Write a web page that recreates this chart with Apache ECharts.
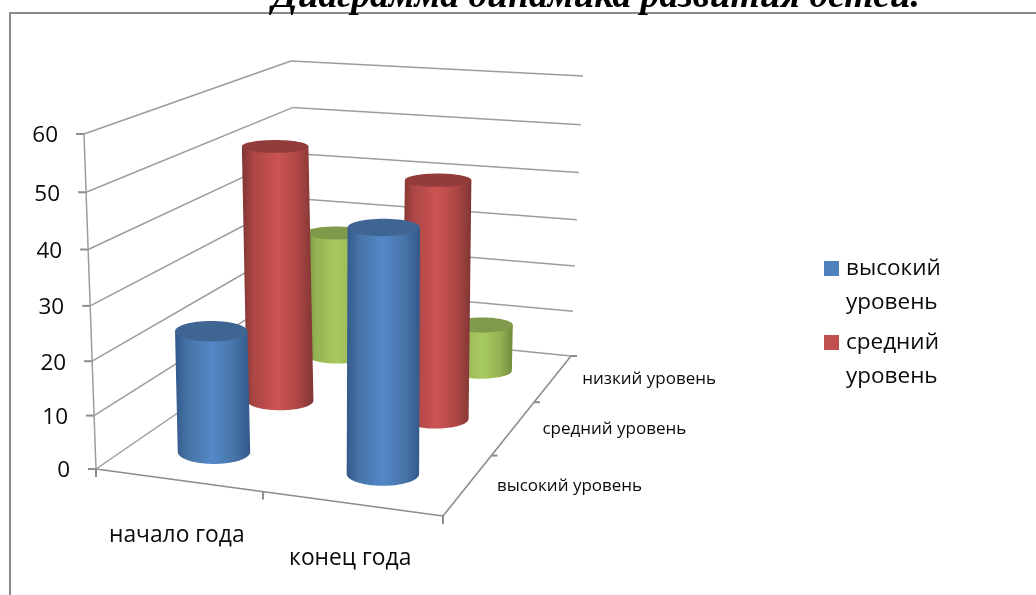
<!DOCTYPE html>
<html><head><meta charset="utf-8">
<style>html,body{margin:0;padding:0;background:#fff}#c{width:1036px;height:595px}</style>
<script src="https://cdn.jsdelivr.net/npm/echarts@6/dist/echarts.min.js"></script>
</head><body><div id="c"></div>
<script>
const titleText = 'Диаграмма динамика развития детей.';
const categories = ['начало года', 'конец года'];
const levels = ['высокий уровень', 'средний уровень', 'низкий уровень'];
const highValues = [23, 45];
const mediumValues = [51, 47];
const lowValues = [27, 10];
const valueTicks = [0, 10, 20, 30, 40, 50, 60];
const legendNames = ['высокий уровень', 'средний уровень'];
const FONT = '"Open Sans"';

const C = {
  f0: [[96,469],[443,516]], b0: [[300,329],[571,356]],
  f1: [[84,134],[447,166]], b1: [[291,61],[583,76]]
};
const lerp = (a,b,t)=>[a[0]+(b[0]-a[0])*t, a[1]+(b[1]-a[1])*t];
const warpH = t => t - 0.052*t*(1-t);
const warpV = v => v + 0.2*v*(1-v);
const warpU = u => u - u*(1-u)*(0.076-0.18*Math.max(0,u-0.5));
function proj(u,v,t){
  const uu = warpU(u), vv = warpV(v), tt = warpH(t);
  const low = lerp(lerp(C.f0[0],C.f0[1],uu), lerp(C.b0[0],C.b0[1],uu), vv);
  const up  = lerp(lerp(C.f1[0],C.f1[1],uu), lerp(C.b1[0],C.b1[1],uu), vv);
  return lerp(low,up,tt);
}
const LINE = '#9c9c9c', TICK = '#8c8c8c';
const seg = (a,b,color,w)=>({type:'line',silent:true,shape:{x1:a[0],y1:a[1],x2:b[0],y2:b[1]},style:{stroke:color||LINE,lineWidth:w||1.5}});
const txt = (s,x,y,size,align)=>({type:'text',silent:true,style:{text:s,x:x,y:y,fill:'#0a0a0a',font:size+'px '+FONT,textAlign:align||'left',textVerticalAlign:'middle'}});

function renderFrame(params, api){
  const cs = params.coordSys;
  const tOf = val => (cs.y+cs.height-api.coord([0,val])[1])/cs.height;
  const uOf = i => (api.coord([i,0])[0]-cs.x)/cs.width;
  const kids = [];
  valueTicks.forEach(val=>{
    const t = tOf(val);
    const a = proj(0,0,t), b = proj(0,1,t), c = proj(1,1,t);
    kids.push(seg(a,b), seg(b,c));
    kids.push(seg([a[0]-8,a[1]],a,TICK,2));
    kids.push(txt(String(val), a[0]-26, a[1]+2, 22.5, 'right'));
  });
  kids.push(seg(proj(0,0,0),proj(0,0,1)));
  kids.push(seg(proj(0,0,0),proj(1,0,0),TICK,1.6));
  kids.push(seg(proj(1,0,0),proj(1,1,0),TICK,1.6));
  categories.forEach((name,i)=>{
    const p = proj(uOf(i),0,0);
    kids.push(txt(name, i===0 ? p[0]-1 : p[0]-4, p[1]+55, 22.8, 'center'));
  });
  [0,0.5,1].forEach(u=>{
    const p = proj(u,0,0);
    kids.push(seg(p,[p[0],p[1]+8],TICK,2));
  });
  levels.forEach((name,i)=>{
    const p = proj(1,(i+0.5)/levels.length,0);
    kids.push(txt(name,p[0]+29,p[1]+1,17));
  });
  [1,2,3].forEach(i=>{
    const p = proj(1,i/levels.length,0);
    kids.push(seg(p,[p[0]+6,p[1]],TICK,2));
  });
  return {type:'group',children:kids};
}

function cylinderRenderer(levelIndex, pal){
  return function(params, api){
    const cs = params.coordSys;
    const pos = api.coord([api.value(0), api.value(1)]);
    const u = (pos[0]-cs.x)/cs.width;
    const t = (cs.y+cs.height-pos[1])/cs.height;
    const v = (levelIndex+0.5)/levels.length;
    const b = proj(u,v,0), top = proj(u,v,t);
    const vv = warpV(v);
    const span = lerp(C.f0[1],C.b0[1],vv)[0]-lerp(C.f0[0],C.b0[0],vv)[0];
    const rx = 0.109*span;
    const ratio = h => 0.35-0.1*vv-0.12*h;
    const ryB = rx*ratio(0), ryT = rx*ratio(t);
    const pts = [];
    pts.push([top[0]-rx,top[1]]);
    for(let i=0;i<=48;i++){
      const a = Math.PI*i/48;
      pts.push([b[0]-rx*Math.cos(a), b[1]+ryB*Math.sin(a)]);
    }
    pts.push([top[0]+rx,top[1]]);
    return {type:'group',children:[
      {type:'polygon',silent:true,shape:{points:pts},style:{fill:{type:'linear',x:0,y:0,x2:1,y2:0,colorStops:[
        {offset:0,color:pal.edge},{offset:0.16,color:pal.mid},{offset:0.5,color:pal.light},{offset:0.8,color:pal.mid},{offset:1,color:pal.edge}]}}},
      {type:'ellipse',silent:true,shape:{cx:top[0],cy:top[1],rx:rx,ry:ryT},style:{fill:pal.top}}
    ]};
  };
}
const PAL = {
  high:{edge:'#33598a',mid:'#4673a6',light:'#5488c9',top:'#3f6592',swatch:'#4f81bd'},
  med:{edge:'#7f3533',mid:'#ab4644',light:'#cc5452',top:'#923d3b',swatch:'#c0504d'},
  low:{edge:'#708b3a',mid:'#93b253',light:'#a8cb60',top:'#7f9a4a',swatch:'#9bbb59'}
};
const toData = arr => arr.map((val,i)=>[i,val]);
const mkSeries = (name,values,level,pal)=>({
  type:'custom',name:name,coordinateSystem:'cartesian2d',data:toData(values),clip:false,silent:true,
  itemStyle:{color:pal.swatch},encode:{x:0,y:1},renderItem:cylinderRenderer(level,pal)
});
const swatchIcon = 'path://M0,9H15V24H0ZM0,0L0,0M0,68L0,68';
const chart = echarts.init(document.getElementById('c'),null,{renderer:'canvas'});
chart.setOption({
  animation:false,
  backgroundColor:'#fff',
  title:{text:titleText,left:272,top:-22,padding:0,textStyle:{fontFamily:'"Liberation Serif"',fontStyle:'italic',fontWeight:'bold',fontSize:37.6,color:'#000'}},
  legend:{orient:'vertical',left:824,top:252,padding:0,itemGap:6,itemWidth:15,itemHeight:68,
    data:legendNames.map(n=>({name:n,icon:swatchIcon})),
    formatter:n=>n.replace(' ','\n'),
    textStyle:{fontFamily:FONT,fontSize:22.5,lineHeight:34,color:'#0a0a0a',padding:[0,0,0,2]}},
  grid:{left:0,top:0,width:1036,height:595,show:false},
  xAxis:{type:'category',data:categories,show:false},
  yAxis:{type:'value',min:0,max:60,interval:10,show:false},
  graphic:[
    {type:'polyline',silent:true,shape:{points:[[10,595],[10,13],[1036,13]]},style:{stroke:'#8a8a8a',lineWidth:2,fill:'none'}}
  ],
  series:[
    {type:'custom',name:'frame',coordinateSystem:'cartesian2d',data:[[0,0]],clip:false,silent:true,renderItem:renderFrame,encode:{x:0,y:1}},
    mkSeries('низкий уровень',lowValues,2,PAL.low),
    mkSeries('средний уровень',mediumValues,1,PAL.med),
    mkSeries('высокий уровень',highValues,0,PAL.high)
  ]
});
</script></body></html>
